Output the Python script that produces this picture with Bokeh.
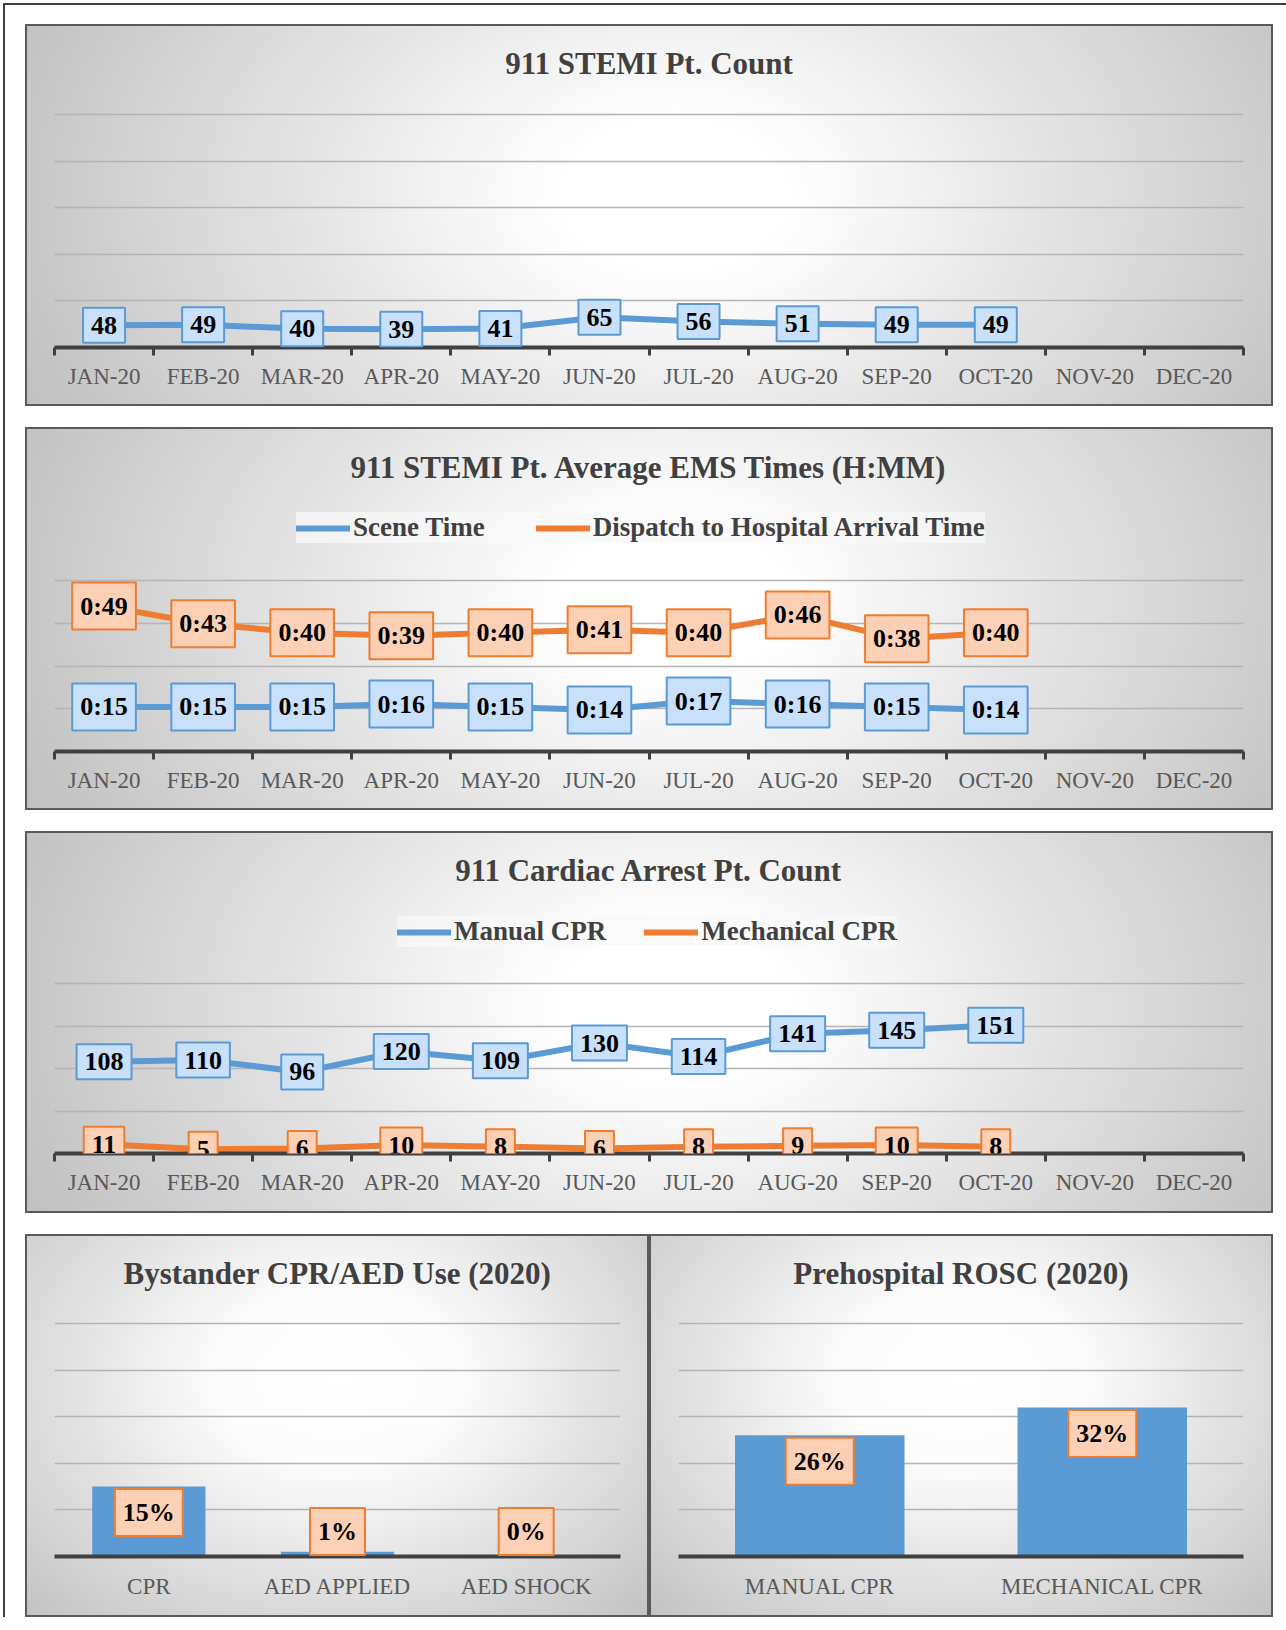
import numpy as np
from bokeh.plotting import figure
from bokeh.models import (Label, Legend, LegendItem, FixedTicker, Range1d,
                          Spacer, Row, Column)
from bokeh.embed import file_html
from bokeh.resources import INLINE

# ---------------- data ----------------
months = ["JAN-20", "FEB-20", "MAR-20", "APR-20", "MAY-20", "JUN-20",
          "JUL-20", "AUG-20", "SEP-20", "OCT-20", "NOV-20", "DEC-20"]
stemi_count = [48, 49, 40, 39, 41, 65, 56, 51, 49, 49]
scene_time_min = [15, 15, 15, 16, 15, 14, 17, 16, 15, 14]
dispatch_to_hospital_min = [49, 43, 40, 39, 40, 41, 40, 46, 38, 40]
manual_cpr_count = [108, 110, 96, 120, 109, 130, 114, 141, 145, 151]
mechanical_cpr_count = [11, 5, 6, 10, 8, 6, 8, 9, 10, 8]
bystander_cats = ["CPR", "AED APPLIED", "AED SHOCK"]
bystander_pct = [15, 1, 0]
rosc_cats = ["MANUAL CPR", "MECHANICAL CPR"]
rosc_pct = [26, 32]

# ---------------- style ----------------
FONT = "Liberation Serif"
BLUE = "#5b9bd5"
ORANGE = "#ed7d31"
BLUE_BOX = "#c8e0fa"
ORANGE_BOX = "#fbd0b4"
DARK = "#404040"
GRID = "#b4b4b4"
PAD = (8, 9)
BG_WIDE = ("radial-gradient(ellipse 60% 130% at 52% 45%, #ffffff 0%, #ffffff 15%, "
           "#bdbdbd 100%)")
BG_SMALL = ("radial-gradient(ellipse 75% 90% at 50% 38%, #ffffff 0%, #fcfcfc 25%, "
            "#bfbfbf 100%)")


def make_panel(title, cats, w, h, fl, fr, ft, fb, ymax, grid_step, title_y,
               ticks=True, standoff=8, bg=BG_WIDE):
    """ft = distance from panel top to the top gridline (ymax)."""
    fw = w - fl - fr
    full_h = h - fb            # the frame reaches the panel top
    fh = full_h - ft           # height of the gridded part
    n = len(cats)
    p = figure(width=w, height=h, x_range=Range1d(-0.5, n - 0.5),
               y_range=Range1d(0, ymax * full_h / fh), output_backend="svg",
               toolbar_location=None, y_axis_location=None,
               min_border_left=fl, min_border_right=fr,
               min_border_top=0, min_border_bottom=fb)
    p.background_fill_color = None
    p.border_fill_color = None
    p.outline_line_color = None
    p.xgrid.visible = False
    p.styles = {"background-image": bg,
                "box-shadow": "inset 0 0 0 2px #5a5a5a"}
    idx = list(range(n))
    ax = p.xaxis[0]
    ax.ticker = FixedTicker(ticks=idx,
                            minor_ticks=[i - 0.5 for i in range(n + 1)] if ticks else [])
    ax.major_label_overrides = {i: c for i, c in enumerate(cats)}
    ax.axis_line_color = DARK
    ax.axis_line_width = 4
    ax.major_tick_line_color = None
    ax.major_tick_out = 0
    ax.major_tick_in = 0
    ax.minor_tick_line_color = DARK if ticks else None
    ax.minor_tick_line_width = 3
    ax.minor_tick_out = 8
    ax.minor_tick_in = 0
    ax.major_label_text_font = FONT
    ax.major_label_text_font_size = "23px"
    ax.major_label_text_color = "#595959"
    ax.major_label_standoff = standoff
    nsteps = int(round(ymax / grid_step))
    grid = p.ygrid[0]
    grid.ticker = FixedTicker(ticks=[k * grid_step for k in range(nsteps + 1)])
    grid.grid_line_color = GRID
    grid.grid_line_width = 1.5
    p.add_layout(Label(x=fw / 2, y=full_h - title_y, x_units="screen",
                       y_units="screen", text=title, text_font=FONT,
                       text_font_style="bold", text_font_size="31px",
                       text_color=DARK, text_align="center",
                       text_baseline="middle"))
    return p, fw, fh, full_h


def box_labels(p, xs, ys, texts, fill, border, y_offset=0):
    for x, y, t in zip(xs, ys, texts):
        p.add_layout(Label(x=x, y=y, text=t, x_offset=2, y_offset=y_offset - 3,
                           text_font=FONT, text_font_style="bold",
                           text_font_size="26px", text_alpha=0,
                           text_align="center", text_baseline="middle",
                           background_fill_color="black",
                           background_fill_alpha=0.16, padding=PAD))
        p.add_layout(Label(x=x, y=y, text=t, y_offset=y_offset,
                           text_font=FONT, text_font_style="bold",
                           text_font_size="26px", text_color="black",
                           text_align="center", text_baseline="middle",
                           background_fill_color=fill,
                           border_line_color=border, border_line_width=2,
                           padding=PAD))


def line(p, xs, ys, color):
    return p.line(xs, ys, line_width=6, line_color=color,
                  line_join="round", line_cap="round")


def legend(p, items, vx, vy, spacing):
    lg = Legend(items=items, location=(vx, vy), orientation="horizontal",
                label_text_font=FONT, label_text_font_style="bold",
                label_text_font_size="27px", label_text_color=DARK,
                glyph_width=54, glyph_height=20, label_standoff=3,
                spacing=spacing, padding=7, margin=0,
                background_fill_color="#f8f8f8", background_fill_alpha=0.75,
                border_line_color=None)
    p.add_layout(lg)


# ---------------- panel 1 ----------------
p1, fw1, fh1, H1 = make_panel("911 STEMI Pt. Count", months, 1248, 382, 29, 30, 90, 59,
                              500, 100, 39)
x1 = list(range(len(stemi_count)))
line(p1, x1, stemi_count, BLUE)
box_labels(p1, x1, stemi_count, [str(v) for v in stemi_count], BLUE_BOX, BLUE)

# ---------------- panel 2 ----------------
p2, fw2, fh2, H2 = make_panel("911 STEMI Pt. Average EMS Times (H:MM)", months, 1248, 383,
                              29, 30, 153, 59, 57.6, 14.4, 40)
x2 = list(range(len(scene_time_min)))
r_scene = line(p2, x2, scene_time_min, BLUE)
r_disp = line(p2, x2, dispatch_to_hospital_min, ORANGE)
box_labels(p2, x2, dispatch_to_hospital_min,
           [f"0:{v:02d}" for v in dispatch_to_hospital_min], ORANGE_BOX, ORANGE)
box_labels(p2, x2, scene_time_min,
           [f"0:{v:02d}" for v in scene_time_min], BLUE_BOX, BLUE)
legend(p2, [LegendItem(label="Scene Time", renderers=[r_scene]),
            LegendItem(label="Dispatch to Hospital Arrival Time", renderers=[r_disp])],
       242, H2 - 116, 51)

# ---------------- panel 3 ----------------
p3, fw3, fh3, H3 = make_panel("911 Cardiac Arrest Pt. Count", months, 1248, 382,
                              29, 30, 152, 60, 200, 50, 39)
x3 = list(range(len(manual_cpr_count)))
r_man = line(p3, x3, manual_cpr_count, BLUE)
r_mech = line(p3, x3, mechanical_cpr_count, ORANGE)
box_labels(p3, x3, manual_cpr_count, [str(v) for v in manual_cpr_count], BLUE_BOX, BLUE)
box_labels(p3, x3, mechanical_cpr_count, [str(v) for v in mechanical_cpr_count],
           ORANGE_BOX, ORANGE)
legend(p3, [LegendItem(label="Manual CPR", renderers=[r_man]),
            LegendItem(label="Mechanical CPR", renderers=[r_mech])],
       343, H3 - 116, 38)

# ---------------- panel 4 ----------------
p4, fw4, fh4, H4 = make_panel("Bystander CPR/AED Use (2020)", bystander_cats, 624, 383,
                              29, 29, 89, 61, 50, 10, 39, ticks=False, standoff=17,
                              bg=BG_SMALL)
x4 = list(range(len(bystander_pct)))
p4.vbar(x=x4, top=bystander_pct, width=0.6, fill_color=BLUE, line_color=None)
min4 = 51 * 50 / fh4
box_labels(p4, x4, [max(v, min4) for v in bystander_pct],
           [f"{v}%" for v in bystander_pct], ORANGE_BOX, ORANGE, y_offset=-26)

# ---------------- panel 5 ----------------
p5, fw5, fh5, H5 = make_panel("Prehospital ROSC (2020)", rosc_cats, 624, 383,
                              29, 30, 89, 61, 50, 10, 39, ticks=False, standoff=17,
                              bg=BG_SMALL)
x5 = list(range(len(rosc_pct)))
p5.vbar(x=x5, top=rosc_pct, width=0.6, fill_color=BLUE, line_color=None)
min5 = 51 * 50 / fh5
box_labels(p5, x5, [max(v, min5) for v in rosc_pct],
           [f"{v}%" for v in rosc_pct], ORANGE_BOX, ORANGE, y_offset=-26)

# ---------------- layout ----------------
outer = Column(children=[
    Spacer(width=1286, height=24),
    Row(children=[Spacer(width=25, height=1), p1]),
    Spacer(width=1, height=21),
    Row(children=[Spacer(width=25, height=1), p2]),
    Spacer(width=1, height=21),
    Row(children=[Spacer(width=25, height=1), p3]),
    Spacer(width=1, height=21),
    Row(children=[Spacer(width=25, height=1), p4, p5]),
], styles={"box-shadow": "inset 3px 3px 0 0 #ffffff, inset 5px 5px 0 0 #404040"})

open("out.html", "w").write(file_html(outer, INLINE, title="EMS STEMI / Cardiac Arrest"))
